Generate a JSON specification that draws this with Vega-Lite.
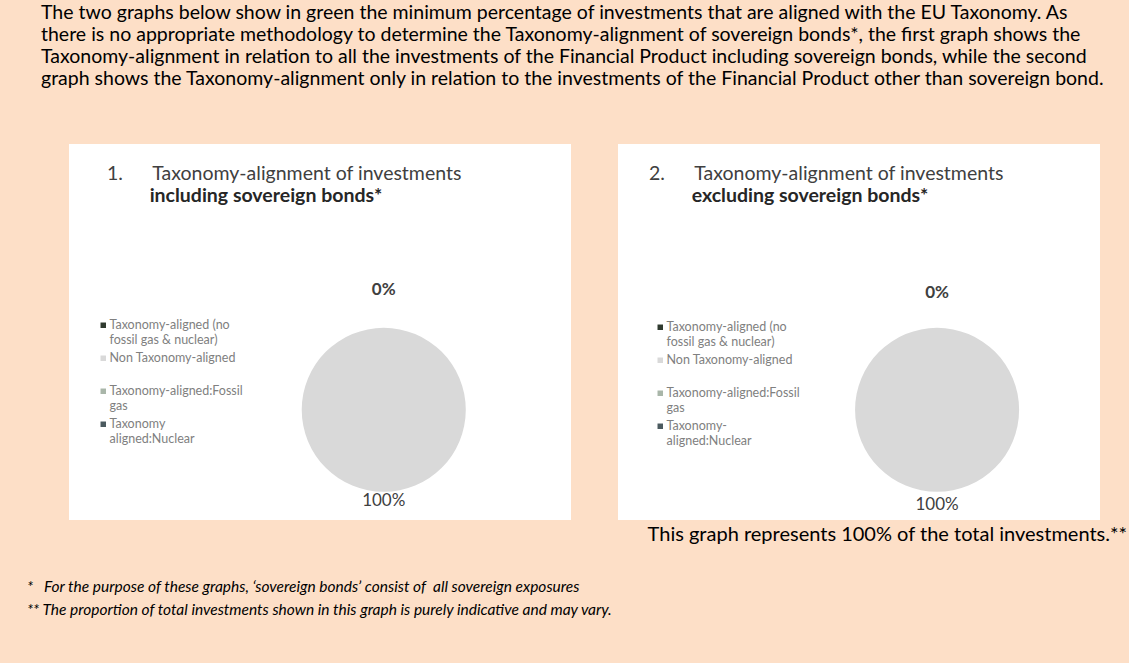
{
  "$schema": "https://vega.github.io/schema/vega-lite/v6.json",
  "background": "#FDDFC7",
  "padding": {"left": 27, "top": 2, "right": 4, "bottom": 45},
  "title": {
    "text": [
      "The two graphs below show in green the minimum percentage of investments that are aligned with the EU Taxonomy. As",
      "there is no appropriate methodology to determine the Taxonomy-alignment of sovereign bonds*, the first graph shows the",
      "Taxonomy-alignment in relation to all the investments of the Financial Product including sovereign bonds, while the second",
      "graph shows the Taxonomy-alignment only in relation to the investments of the Financial Product other than sovereign bond."
    ],
    "anchor": "start",
    "frame": "group",
    "dx": -28,
    "font": "Lato",
    "fontSize": 19.5,
    "fontWeight": "normal",
    "color": "#000000",
    "lineHeight": 22,
    "offset": 55
  },
  "datasets": {
    "alloc": [
      {"category": "Taxonomy-aligned (no fossil gas & nuclear)", "share": 0},
      {"category": "Non Taxonomy-aligned", "share": 1},
      {"category": "Taxonomy-aligned:Fossil gas", "share": 0},
      {"category": "Taxonomy-aligned:Nuclear", "share": 0}
    ],
    "notes": [
      {"line": 1, "text": "*\u00a0\u00a0\u00a0For the purpose of these graphs, \u2018sovereign bonds\u2019 consist of\u00a0 all sovereign exposures"},
      {"line": 2, "text": "** The proportion of total investments shown in this graph is purely indicative and may vary."}
    ]
  },
  "config": {
    "view": {"stroke": null},
    "legend": {
      "orient": "none",
      "title": null,
      "symbolType": "square",
      "symbolSize": 30,
      "labelFont": "Lato",
      "labelFontSize": 12.5,
      "labelColor": "#808080",
      "labelLimit": 220,
      "labelOffset": 0,
      "rowPadding": 5
    },
    "title": {
      "anchor": "start",
      "frame": "group",
      "font": "Lato",
      "fontSize": 19.5,
      "fontWeight": "normal",
      "color": "#404040",
      "subtitleFont": "Lato",
      "subtitleFontSize": 19.5,
      "subtitleFontWeight": "bold",
      "subtitleColor": "#262626",
      "subtitlePadding": 2
    }
  },
  "spacing": -13,
  "vconcat": [
    {
      "hconcat": [
        {
          "width": 502,
          "height": 376,
          "view": {"fill": "white", "stroke": null},
          "title": {
            "text": "1.\u00a0\u00a0\u00a0\u00a0\u00a0\u00a0Taxonomy-alignment of investments",
            "subtitle": "\u200b\u00a0\u00a0\u00a0\u00a0\u00a0\u00a0\u00a0\u00a0\u00a0including sovereign bonds*",
            "dx": 38,
            "offset": -62
          },
          "data": {"name": "alloc"},
          "encoding": {
            "theta": {"field": "share", "type": "quantitative", "stack": true},
            "x": {"datum": 0.627, "type": "quantitative", "scale": {"domain": [0, 1], "nice": false, "zero": false}, "axis": null},
            "y": {"datum": 0.707, "type": "quantitative", "scale": {"domain": [0, 1], "nice": false, "zero": false, "reverse": true}, "axis": null}
          },
          "layer": [
            {
              "mark": {"type": "arc", "outerRadius": 82},
              "encoding": {
                "color": {
                  "field": "category",
                  "type": "nominal",
                  "scale": {
                    "domain": ["Taxonomy-aligned (no fossil gas & nuclear)", "Non Taxonomy-aligned", "Taxonomy-aligned:Fossil gas", "Taxonomy-aligned:Nuclear"],
                    "range": ["#2f3a2f", "#d9d9d9", "#a9b6a9", "#4b5a5f"]
                  },
                  "legend": {
                    "legendX": 28,
                    "legendY": 175,
                    "labelExpr": "datum.label == 'Taxonomy-aligned (no fossil gas & nuclear)' ? ['Taxonomy-aligned (no', 'fossil gas & nuclear)'] : datum.label == 'Non Taxonomy-aligned' ? ['Non Taxonomy-aligned', ''] : datum.label == 'Taxonomy-aligned:Fossil gas' ? ['Taxonomy-aligned:Fossil', 'gas'] : datum.label == 'Taxonomy-aligned:Nuclear' ? ['Taxonomy', 'aligned:Nuclear'] : datum.label"
                  }
                }
              }
            },
            {
              "mark": {"type": "text", "radius": 120, "font": "Lato", "fontSize": 17, "fontWeight": "bold", "color": "#404040"},
              "encoding": {
                "detail": {"field": "category"},
                "text": {"condition": {"test": "datum.category == 'Taxonomy-aligned (no fossil gas & nuclear)'", "field": "share", "type": "quantitative", "format": ".0%"}, "value": ""}
              }
            },
            {
              "mark": {"type": "text", "radius": 91, "font": "Lato", "fontSize": 17, "color": "#404040"},
              "encoding": {
                "detail": {"field": "category"},
                "text": {"condition": {"test": "datum.share == 1", "field": "share", "type": "quantitative", "format": ".0%"}, "value": ""}
              }
            }
          ]
        },
        {
          "width": 482,
          "height": 376,
          "view": {"fill": "white", "stroke": null},
          "title": {
            "text": "2.\u00a0\u00a0\u00a0\u00a0\u00a0\u00a0Taxonomy-alignment of investments",
            "subtitle": "\u200b\u00a0\u00a0\u00a0\u00a0\u00a0\u00a0\u00a0\u00a0\u00a0excluding sovereign bonds*",
            "dx": 31,
            "offset": -62
          },
          "data": {"name": "alloc"},
          "encoding": {
            "theta": {"field": "share", "type": "quantitative", "stack": true},
            "x": {"datum": 0.662, "type": "quantitative", "scale": {"domain": [0, 1], "nice": false, "zero": false}, "axis": null},
            "y": {"datum": 0.707, "type": "quantitative", "scale": {"domain": [0, 1], "nice": false, "zero": false, "reverse": true}, "axis": null}
          },
          "layer": [
            {
              "mark": {"type": "arc", "outerRadius": 82},
              "encoding": {
                "color": {
                  "field": "category",
                  "type": "nominal",
                  "scale": {
                    "domain": ["Taxonomy-aligned (no fossil gas & nuclear)", "Non Taxonomy-aligned", "Taxonomy-aligned:Fossil gas", "Taxonomy-aligned:Nuclear"],
                    "range": ["#2f3a2f", "#d9d9d9", "#a9b6a9", "#4b5a5f"]
                  },
                  "legend": {
                    "legendX": 36,
                    "legendY": 177,
                    "labelExpr": "datum.label == 'Taxonomy-aligned (no fossil gas & nuclear)' ? ['Taxonomy-aligned (no', 'fossil gas & nuclear)'] : datum.label == 'Non Taxonomy-aligned' ? ['Non Taxonomy-aligned', ''] : datum.label == 'Taxonomy-aligned:Fossil gas' ? ['Taxonomy-aligned:Fossil', 'gas'] : datum.label == 'Taxonomy-aligned:Nuclear' ? ['Taxonomy-', 'aligned:Nuclear'] : datum.label"
                  }
                }
              }
            },
            {
              "mark": {"type": "text", "radius": 117, "font": "Lato", "fontSize": 17, "fontWeight": "bold", "color": "#404040"},
              "encoding": {
                "detail": {"field": "category"},
                "text": {"condition": {"test": "datum.category == 'Taxonomy-aligned (no fossil gas & nuclear)'", "field": "share", "type": "quantitative", "format": ".0%"}, "value": ""}
              }
            },
            {
              "mark": {"type": "text", "radius": 95, "font": "Lato", "fontSize": 17, "color": "#404040"},
              "encoding": {
                "detail": {"field": "category"},
                "text": {"condition": {"test": "datum.share == 1", "field": "share", "type": "quantitative", "format": ".0%"}, "value": ""}
              }
            }
          ]
        }
      ],
      "spacing": 47,
      "resolve": {"scale": {"color": "independent", "theta": "independent", "x": "independent", "y": "independent"}}
    },
    {
      "width": 1058,
      "height": 46,
      "title": {
        "text": "This graph represents 100% of the total investments.**",
        "anchor": "end",
        "font": "Lato",
        "fontSize": 20,
        "fontWeight": "normal",
        "color": "#000000",
        "offset": 30
      },
      "data": {"name": "notes"},
      "mark": {"type": "text", "align": "left", "dx": -42, "font": "Lato", "fontSize": 15.5, "fontStyle": "italic", "color": "#000000"},
      "encoding": {
        "y": {"field": "line", "type": "ordinal", "axis": null},
        "x": {"value": 0},
        "text": {"field": "text"}
      }
    }
  ]
}
